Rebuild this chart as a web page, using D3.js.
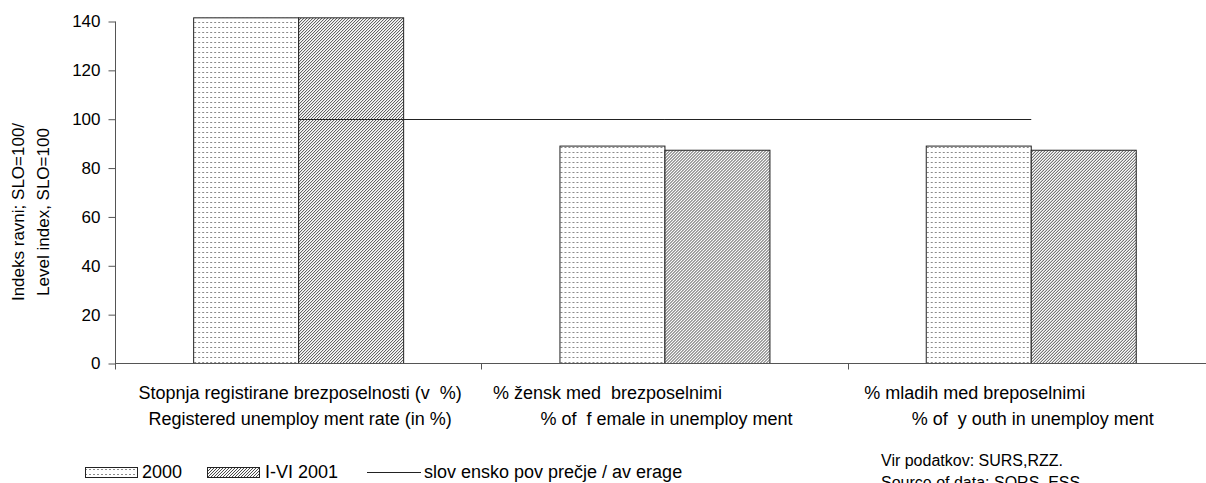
<!DOCTYPE html>
<html>
<head>
<meta charset="utf-8">
<script src="https://cdn.jsdelivr.net/npm/d3@7"></script>
<style>
  body { margin: 0; background: #fff; }
  text { font-family: "Liberation Sans", Arial, sans-serif; fill: #000; white-space: pre; }
</style>
</head>
<body>
<div id="chart"></div>
<script>
// data
var categoriesSl = ["Stopnja registirane brezposelnosti (v  %)", "% žensk med  brezposelnimi", "% mladih med breposelnimi"];
var categoriesEn = ["Registered unemploy ment rate (in %)", "% of  f emale in unemploy ment", "% of  y outh in unemploy ment"];
var values2000 = [141.5, 89.0, 89.0];
var values2001 = [141.5, 87.3, 87.3];
var average = [100, 100, 100];
var yTicks = [0, 20, 40, 60, 80, 100, 120, 140];
var seriesNames = ["2000", "I-VI 2001", "slov ensko pov prečje / av erage"];
var sourceLines = ["Vir podatkov: SURS,RZZ.", "Source of data: SORS, ESS."];

var W = 1206, H = 483;
var plotLeft = 115, plotTop = 21.5, plotBottom = 363.5;
var step = 366.3;

var svg = d3.select("#chart").append("svg")
  .attr("width", W)
  .attr("height", H);

// fill patterns
var defs = svg.append("defs");
var dots = defs.append("pattern")
  .attr("id", "dots")
  .attr("patternUnits", "userSpaceOnUse")
  .attr("width", 4).attr("height", 5);
dots.append("rect").attr("width", 4).attr("height", 5).attr("fill", "#fff");
dots.append("rect").attr("x", 1).attr("y", 2).attr("width", 2).attr("height", 1).attr("fill", "#8a8a8a");

var hatch = defs.append("pattern")
  .attr("id", "hatch")
  .attr("patternUnits", "userSpaceOnUse")
  .attr("width", 3).attr("height", 3);
hatch.append("rect").attr("width", 3).attr("height", 3).attr("fill", "#fafafa");
hatch.append("path")
  .attr("d", "M-1,1 l2,-2 M0,3 l3,-3 M2,4 l2,-2")
  .attr("stroke", "#4a4a4a")
  .attr("stroke-width", 1);

var idx = d3.range(categoriesSl.length);

var x = d3.scaleBand()
  .domain(idx)
  .range([plotLeft, plotLeft + step * idx.length])
  .paddingInner(0.4267)
  .paddingOuter(0.4267 / 2);

var xSub = d3.scaleBand()
  .domain([0, 1])
  .range([0, x.bandwidth()]);

var y = d3.scaleLinear()
  .domain([0, 140])
  .range([plotBottom, plotTop]);

// y axis
var yAxis = svg.append("g")
  .attr("transform", "translate(" + (plotLeft + 0.5) + ",0)")
  .call(d3.axisLeft(y).tickValues(yTicks).tickSize(7).tickPadding(8).tickSizeOuter(0));
yAxis.select(".domain").remove();
yAxis.selectAll(".tick line").attr("stroke", "#555");
yAxis.selectAll("text")
  .attr("font-size", "17px")
  .attr("font-family", "Liberation Sans, Arial, sans-serif")
  .attr("fill", "#000");
yAxis.append("line")
  .attr("x1", 0).attr("x2", 0)
  .attr("y1", y(140)).attr("y2", plotBottom + 6)
  .attr("stroke", "#555");

// bars
var groups = svg.append("g").selectAll("g")
  .data(idx)
  .enter().append("g")
  .attr("transform", function(i) { return "translate(" + x(i) + ",0)"; });

groups.append("rect")
  .attr("x", xSub(0) + 0.5)
  .attr("y", function(i) { return y(values2000[i]); })
  .attr("width", xSub.bandwidth())
  .attr("height", function(i) { return plotBottom - y(values2000[i]); })
  .attr("fill", "url(#dots)")
  .attr("stroke", "#222");

groups.append("rect")
  .attr("x", xSub(1) + 0.5)
  .attr("y", function(i) { return y(values2001[i]); })
  .attr("width", xSub.bandwidth())
  .attr("height", function(i) { return plotBottom - y(values2001[i]); })
  .attr("fill", "url(#hatch)")
  .attr("stroke", "#222");

// x axis
var xAxis = svg.append("g");
xAxis.append("line")
  .attr("x1", plotLeft).attr("x2", W)
  .attr("y1", plotBottom).attr("y2", plotBottom)
  .attr("stroke", "#555");
xAxis.selectAll("line.tick")
  .data(d3.range(1, idx.length + 1))
  .enter().append("line")
  .attr("class", "tick")
  .attr("x1", function(i) { return Math.round(plotLeft + i * step) + 0.5; })
  .attr("x2", function(i) { return Math.round(plotLeft + i * step) + 0.5; })
  .attr("y1", plotBottom).attr("y2", plotBottom + 6)
  .attr("stroke", "#555");

// average line
var line = d3.line()
  .x(function(d, i) { return x(i) + x.bandwidth() / 2 + 0.5; })
  .y(function(d) { return Math.round(y(d)) + 0.5; });
svg.append("path")
  .datum(average)
  .attr("d", line)
  .attr("fill", "none")
  .attr("stroke", "#222")
  .attr("stroke-width", 1);

// category labels (two lines, as in the original)
var label1Shift = [2, -57, -56];
svg.append("g").selectAll("text")
  .data(idx)
  .enter().append("text")
  .attr("x", function(i) { return x(i) + x.bandwidth() / 2 + label1Shift[i]; })
  .attr("y", 399)
  .attr("text-anchor", "middle")
  .attr("font-size", "18px")
  .text(function(i) { return categoriesSl[i]; });
svg.append("g").selectAll("text")
  .data(idx)
  .enter().append("text")
  .attr("x", function(i) { return x(i) + x.bandwidth() / 2 + 2; })
  .attr("y", 425)
  .attr("text-anchor", "middle")
  .attr("font-size", "18px")
  .text(function(i) { return categoriesEn[i]; });

// y axis title
svg.append("text")
  .attr("transform", "translate(24,212) rotate(-90)")
  .attr("text-anchor", "middle")
  .attr("font-size", "17px")
  .text("Indeks ravni; SLO=100/");
svg.append("text")
  .attr("transform", "translate(49,212) rotate(-90)")
  .attr("text-anchor", "middle")
  .attr("font-size", "17px")
  .text("Level index, SLO=100");

// legend
var legend = svg.append("g").attr("transform", "translate(0,472)");
legend.append("rect")
  .attr("x", 85.5).attr("y", -4.5).attr("width", 52).attr("height", 10)
  .attr("fill", "url(#dots)").attr("stroke", "#222");
legend.append("text").attr("x", 142).attr("y", 6).attr("font-size", "18px").text(seriesNames[0]);
legend.append("rect")
  .attr("x", 207.5).attr("y", -4.5).attr("width", 52).attr("height", 10)
  .attr("fill", "url(#hatch)").attr("stroke", "#222");
legend.append("text").attr("x", 265).attr("y", 6).attr("font-size", "18px").text(seriesNames[1]);
legend.append("line")
  .attr("x1", 367).attr("x2", 421).attr("y1", 0.5).attr("y2", 0.5)
  .attr("stroke", "#222");
legend.append("text").attr("x", 424).attr("y", 6).attr("font-size", "18px").text(seriesNames[2]);

// source note
svg.append("g").selectAll("text")
  .data(sourceLines)
  .enter().append("text")
  .attr("x", 881)
  .attr("y", function(d, i) { return 466 + i * 22; })
  .attr("font-size", "16px")
  .text(function(d) { return d; });
</script>
</body>
</html>
